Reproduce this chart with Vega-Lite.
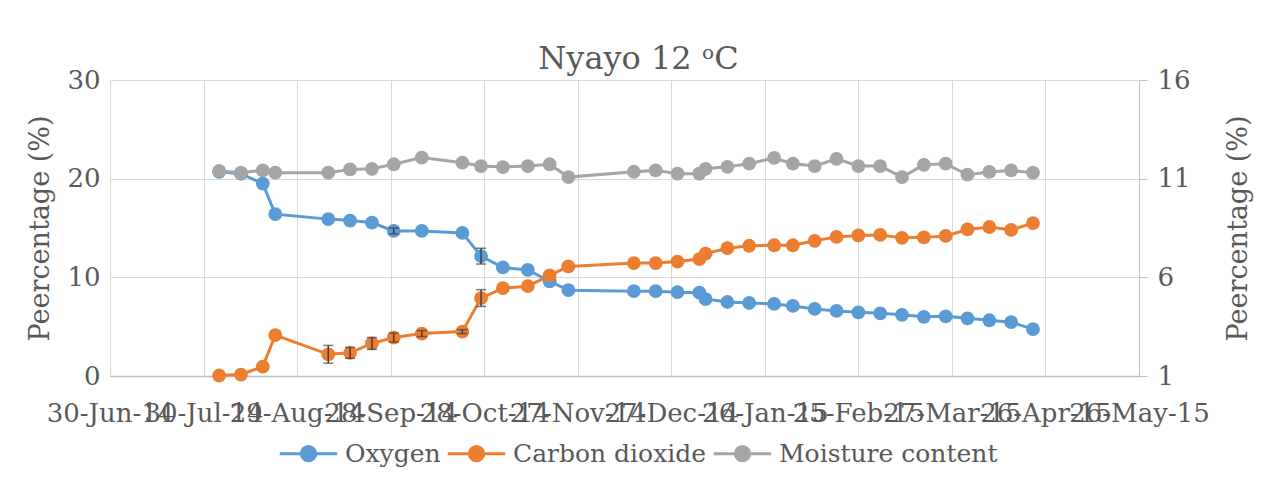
{
  "$schema": "https://vega.github.io/schema/vega-lite/v6.json",
  "width": 1029,
  "height": 296,
  "autosize": {"type": "none"},
  "padding": {"left": 110, "top": 80, "right": 132, "bottom": 104},
  "background": "white",
  "title": {
    "text": "Nyayo 12 ᵒC",
    "font": "DejaVu Serif",
    "fontSize": 32,
    "fontWeight": "normal",
    "color": "#595959",
    "anchor": "middle",
    "frame": "group",
    "dx": 14,
    "offset": -9
  },
  "config": {
    "view": {"stroke": null},
    "axis": {
      "labelFont": "DejaVu Serif",
      "titleFont": "DejaVu Serif",
      "labelColor": "#595959",
      "titleColor": "#595959",
      "labelFontSize": 26,
      "titleFontSize": 27,
      "titleFontWeight": "normal",
      "gridColor": "#d9d9d9",
      "domainColor": "#bfbfbf",
      "tickColor": "#bfbfbf"
    },
    "legend": {
      "labelFont": "DejaVu Serif",
      "labelColor": "#595959",
      "labelFontSize": 25,
      "labelLimit": 0
    }
  },
  "data": {
    "values": [
      {"date": "2014-08-04", "series": "Oxygen", "value": 20.7},
      {"date": "2014-08-11", "series": "Oxygen", "value": 20.5},
      {"date": "2014-08-18", "series": "Oxygen", "value": 19.5},
      {"date": "2014-08-22", "series": "Oxygen", "value": 16.4},
      {"date": "2014-09-08", "series": "Oxygen", "value": 15.9},
      {"date": "2014-09-15", "series": "Oxygen", "value": 15.75},
      {"date": "2014-09-22", "series": "Oxygen", "value": 15.55},
      {"date": "2014-09-29", "series": "Oxygen", "value": 14.7, "lo": 14.4, "hi": 15.0},
      {"date": "2014-10-08", "series": "Oxygen", "value": 14.7},
      {"date": "2014-10-21", "series": "Oxygen", "value": 14.5},
      {"date": "2014-10-27", "series": "Oxygen", "value": 12.15, "lo": 11.35, "hi": 12.95},
      {"date": "2014-11-03", "series": "Oxygen", "value": 11.0},
      {"date": "2014-11-11", "series": "Oxygen", "value": 10.75},
      {"date": "2014-11-18", "series": "Oxygen", "value": 9.6},
      {"date": "2014-11-24", "series": "Oxygen", "value": 8.7},
      {"date": "2014-12-15", "series": "Oxygen", "value": 8.6},
      {"date": "2014-12-22", "series": "Oxygen", "value": 8.6},
      {"date": "2014-12-29", "series": "Oxygen", "value": 8.5},
      {"date": "2015-01-05", "series": "Oxygen", "value": 8.45},
      {"date": "2015-01-07", "series": "Oxygen", "value": 7.8},
      {"date": "2015-01-14", "series": "Oxygen", "value": 7.5},
      {"date": "2015-01-21", "series": "Oxygen", "value": 7.4},
      {"date": "2015-01-29", "series": "Oxygen", "value": 7.3},
      {"date": "2015-02-04", "series": "Oxygen", "value": 7.1},
      {"date": "2015-02-11", "series": "Oxygen", "value": 6.8},
      {"date": "2015-02-18", "series": "Oxygen", "value": 6.6},
      {"date": "2015-02-25", "series": "Oxygen", "value": 6.45},
      {"date": "2015-03-04", "series": "Oxygen", "value": 6.35},
      {"date": "2015-03-11", "series": "Oxygen", "value": 6.2},
      {"date": "2015-03-18", "series": "Oxygen", "value": 6.0},
      {"date": "2015-03-25", "series": "Oxygen", "value": 6.05},
      {"date": "2015-04-01", "series": "Oxygen", "value": 5.85},
      {"date": "2015-04-08", "series": "Oxygen", "value": 5.65},
      {"date": "2015-04-15", "series": "Oxygen", "value": 5.45},
      {"date": "2015-04-22", "series": "Oxygen", "value": 4.75},

      {"date": "2014-08-04", "series": "Carbon dioxide", "value": 0.05},
      {"date": "2014-08-11", "series": "Carbon dioxide", "value": 0.15},
      {"date": "2014-08-18", "series": "Carbon dioxide", "value": 0.95},
      {"date": "2014-08-22", "series": "Carbon dioxide", "value": 4.15},
      {"date": "2014-09-08", "series": "Carbon dioxide", "value": 2.2, "lo": 1.3, "hi": 3.1},
      {"date": "2014-09-15", "series": "Carbon dioxide", "value": 2.35, "lo": 1.8, "hi": 2.9},
      {"date": "2014-09-22", "series": "Carbon dioxide", "value": 3.3, "lo": 2.7, "hi": 3.9},
      {"date": "2014-09-29", "series": "Carbon dioxide", "value": 3.9, "lo": 3.45, "hi": 4.35},
      {"date": "2014-10-08", "series": "Carbon dioxide", "value": 4.3, "lo": 4.0, "hi": 4.6},
      {"date": "2014-10-21", "series": "Carbon dioxide", "value": 4.5, "lo": 4.3, "hi": 4.7},
      {"date": "2014-10-27", "series": "Carbon dioxide", "value": 7.9, "lo": 7.05, "hi": 8.75},
      {"date": "2014-11-03", "series": "Carbon dioxide", "value": 8.9},
      {"date": "2014-11-11", "series": "Carbon dioxide", "value": 9.1},
      {"date": "2014-11-18", "series": "Carbon dioxide", "value": 10.2},
      {"date": "2014-11-24", "series": "Carbon dioxide", "value": 11.1},
      {"date": "2014-12-15", "series": "Carbon dioxide", "value": 11.45},
      {"date": "2014-12-22", "series": "Carbon dioxide", "value": 11.45},
      {"date": "2014-12-29", "series": "Carbon dioxide", "value": 11.6},
      {"date": "2015-01-05", "series": "Carbon dioxide", "value": 11.85},
      {"date": "2015-01-07", "series": "Carbon dioxide", "value": 12.4},
      {"date": "2015-01-14", "series": "Carbon dioxide", "value": 12.95},
      {"date": "2015-01-21", "series": "Carbon dioxide", "value": 13.2},
      {"date": "2015-01-29", "series": "Carbon dioxide", "value": 13.25},
      {"date": "2015-02-04", "series": "Carbon dioxide", "value": 13.25},
      {"date": "2015-02-11", "series": "Carbon dioxide", "value": 13.7},
      {"date": "2015-02-18", "series": "Carbon dioxide", "value": 14.1},
      {"date": "2015-02-25", "series": "Carbon dioxide", "value": 14.25},
      {"date": "2015-03-04", "series": "Carbon dioxide", "value": 14.3},
      {"date": "2015-03-11", "series": "Carbon dioxide", "value": 14.0},
      {"date": "2015-03-18", "series": "Carbon dioxide", "value": 14.05},
      {"date": "2015-03-25", "series": "Carbon dioxide", "value": 14.2},
      {"date": "2015-04-01", "series": "Carbon dioxide", "value": 14.85},
      {"date": "2015-04-08", "series": "Carbon dioxide", "value": 15.1},
      {"date": "2015-04-15", "series": "Carbon dioxide", "value": 14.8},
      {"date": "2015-04-22", "series": "Carbon dioxide", "value": 15.5},

      {"date": "2014-08-04", "series": "Moisture content", "value": 11.39},
      {"date": "2014-08-11", "series": "Moisture content", "value": 11.3},
      {"date": "2014-08-18", "series": "Moisture content", "value": 11.42},
      {"date": "2014-08-22", "series": "Moisture content", "value": 11.3},
      {"date": "2014-09-08", "series": "Moisture content", "value": 11.3},
      {"date": "2014-09-15", "series": "Moisture content", "value": 11.47},
      {"date": "2014-09-22", "series": "Moisture content", "value": 11.5},
      {"date": "2014-09-29", "series": "Moisture content", "value": 11.73},
      {"date": "2014-10-08", "series": "Moisture content", "value": 12.07},
      {"date": "2014-10-21", "series": "Moisture content", "value": 11.81},
      {"date": "2014-10-27", "series": "Moisture content", "value": 11.64},
      {"date": "2014-11-03", "series": "Moisture content", "value": 11.59},
      {"date": "2014-11-11", "series": "Moisture content", "value": 11.64},
      {"date": "2014-11-18", "series": "Moisture content", "value": 11.73},
      {"date": "2014-11-24", "series": "Moisture content", "value": 11.08},
      {"date": "2014-12-15", "series": "Moisture content", "value": 11.35},
      {"date": "2014-12-22", "series": "Moisture content", "value": 11.42},
      {"date": "2014-12-29", "series": "Moisture content", "value": 11.25},
      {"date": "2015-01-05", "series": "Moisture content", "value": 11.25},
      {"date": "2015-01-07", "series": "Moisture content", "value": 11.5},
      {"date": "2015-01-14", "series": "Moisture content", "value": 11.6},
      {"date": "2015-01-21", "series": "Moisture content", "value": 11.76},
      {"date": "2015-01-29", "series": "Moisture content", "value": 12.05},
      {"date": "2015-02-04", "series": "Moisture content", "value": 11.76},
      {"date": "2015-02-11", "series": "Moisture content", "value": 11.64},
      {"date": "2015-02-18", "series": "Moisture content", "value": 12.0},
      {"date": "2015-02-25", "series": "Moisture content", "value": 11.64},
      {"date": "2015-03-04", "series": "Moisture content", "value": 11.64},
      {"date": "2015-03-11", "series": "Moisture content", "value": 11.08},
      {"date": "2015-03-18", "series": "Moisture content", "value": 11.7},
      {"date": "2015-03-25", "series": "Moisture content", "value": 11.76},
      {"date": "2015-04-01", "series": "Moisture content", "value": 11.2},
      {"date": "2015-04-08", "series": "Moisture content", "value": 11.34},
      {"date": "2015-04-15", "series": "Moisture content", "value": 11.42},
      {"date": "2015-04-22", "series": "Moisture content", "value": 11.3}
    ]
  },
  "encoding": {
    "x": {
      "field": "date",
      "type": "temporal",
      "scale": {
        "type": "utc",
        "domain": [
          {"year": 2014, "month": 6, "date": 30, "utc": true},
          {"year": 2015, "month": 5, "date": 26, "utc": true}
        ]
      },
      "axis": {
        "title": null,
        "values": [
          {"year": 2014, "month": 6, "date": 30, "utc": true},
          {"year": 2014, "month": 7, "date": 30, "utc": true},
          {"year": 2014, "month": 8, "date": 29, "utc": true},
          {"year": 2014, "month": 9, "date": 28, "utc": true},
          {"year": 2014, "month": 10, "date": 28, "utc": true},
          {"year": 2014, "month": 11, "date": 27, "utc": true},
          {"year": 2014, "month": 12, "date": 27, "utc": true},
          {"year": 2015, "month": 1, "date": 26, "utc": true},
          {"year": 2015, "month": 2, "date": 25, "utc": true},
          {"year": 2015, "month": 3, "date": 27, "utc": true},
          {"year": 2015, "month": 4, "date": 26, "utc": true},
          {"year": 2015, "month": 5, "date": 26, "utc": true}
        ],
        "format": "%d-%b-%y",
        "labelOverlap": false,
        "labelBound": false,
        "labelFlush": false,
        "labelAngle": 0,
        "labelBaseline": "top",
        "labelPadding": 24,
        "ticks": false,
        "grid": true,
        "domainColor": "#bfbfbf",
        "domainWidth": 1.5
      }
    },
    "color": {
      "field": "series",
      "type": "nominal",
      "scale": {
        "domain": ["Oxygen", "Carbon dioxide", "Moisture content"],
        "range": ["#5B9BD5", "#ED7D31", "#A5A5A5"]
      },
      "legend": {
        "title": null,
        "orient": "none",
        "direction": "horizontal",
        "legendX": 168,
        "legendY": 343,
        "columnPadding": 0,
        "labelOffset": 6,
        "symbolType": "M-1,0H1M-0.25,0A0.25,0.25 0 1 0 0.25,0A0.25,0.25 0 1 0 -0.25,0Z",
        "symbolSize": 3300,
        "symbolStrokeWidth": 3,
        "encode": {
          "symbols": {
            "update": {
              "fill": {"scale": "color", "field": "value"},
              "stroke": {"scale": "color", "field": "value"},
              "opacity": {"value": 1}
            }
          }
        }
      }
    }
  },
  "layer": [
    {
      "transform": [{"filter": "datum.series !== 'Moisture content'"}],
      "layer": [
        {
          "mark": {"type": "line", "strokeWidth": 3},
          "encoding": {
            "y": {
              "field": "value",
              "type": "quantitative",
              "scale": {"domain": [0, 30], "nice": false, "zero": false},
              "axis": {
                "title": "Peercentage (%)",
                "values": [0, 10, 20, 30],
                "ticks": false,
                "domain": false,
                "grid": true,
                "labelPadding": 10,
                "titlePadding": 12
              }
            }
          }
        },
        {
          "mark": {"type": "point", "filled": true, "size": 190, "opacity": 1},
          "encoding": {
            "y": {"field": "value", "type": "quantitative"}
          }
        },
        {
          "transform": [{"filter": "isValid(datum.lo)"}],
          "mark": {"type": "errorbar", "ticks": {"size": 10, "thickness": 1.5}, "color": "#404040", "thickness": 1.5},
          "encoding": {
            "y": {"field": "lo", "type": "quantitative", "title": "Peercentage (%)"},
            "y2": {"field": "hi"},
            "color": {"value": "#404040"}
          }
        }
      ]
    },
    {
      "transform": [{"filter": "datum.series === 'Moisture content'"}],
      "layer": [
        {
          "mark": {"type": "line", "strokeWidth": 3},
          "encoding": {
            "y": {
              "field": "value",
              "type": "quantitative",
              "scale": {"domain": [1, 16], "nice": false, "zero": false},
              "axis": {
                "orient": "right",
                "title": "Peercentage (%)",
                "titleAngle": 270,
                "values": [1, 6, 11, 16],
                "grid": false,
                "ticks": true,
                "tickSize": 8,
                "domain": true,
                "labelPadding": 10,
                "titlePadding": 62
              }
            }
          }
        },
        {
          "mark": {"type": "point", "filled": true, "size": 190, "opacity": 1},
          "encoding": {
            "y": {"field": "value", "type": "quantitative"}
          }
        }
      ]
    }
  ],
  "resolve": {"scale": {"y": "independent"}}
}
